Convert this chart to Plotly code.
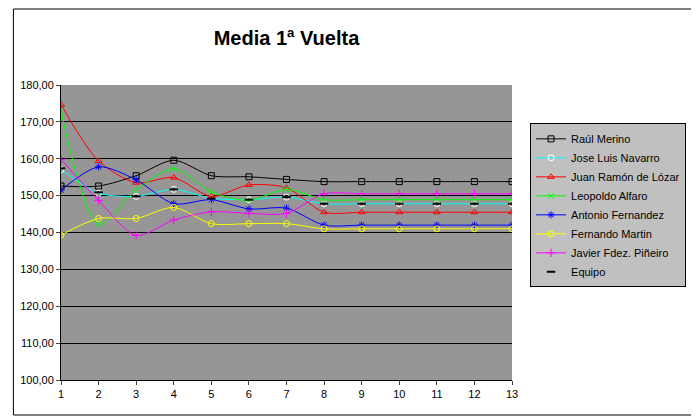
import plotly.graph_objects as go

jornadas = list(range(1, 14))
raul = [152.6,152.6,155.4,159.6,155.4,155.1,154.4]+[153.8]*6
jose = [157.0,150.7,149.8,151.7,149.3,148.9,149.6]+[147.8]*6
juan = [174.7,159.4,153.5,154.9,149.8,152.9,152.1]+[145.5]*6
leopoldo = [172.8,142.2,151.5,157.3,151.0,148.7,151.7]+[148.9]*6
antonio = [151.5,157.8,154.3,147.8,148.9,146.4,146.6]+[142.0]*6
fernando = [139.3,143.8,143.8,146.8,142.4,142.4,142.4]+[141.0]*6
javier = [159.8,148.7,139.2,143.4,145.6,145.2,145.2]+[150.5]*6
equipo = [157.4,150.9,149.8,151.7,149.2,148.9,149.6]+[147.8]*6

fig = go.Figure()
def add(name, y, color, symbol, lcolor=None):
    fig.add_trace(go.Scatter(x=jornadas, y=y, name=name, mode="lines+markers",
        line=dict(color=lcolor or color, width=1, shape="spline", smoothing=0.8),
        marker=dict(symbol=symbol, size=6, color=color, line=dict(color=color, width=1))))

add("Raúl Merino", raul, "black", "square-open")
add("Jose Luis Navarro", jose, "white", "circle-open", lcolor="cyan")
add("Juan Ramón de Lózar", juan, "red", "triangle-up-open")
add("Leopoldo Alfaro", leopoldo, "#00ff00", "x-thin-open")
add("Antonio Fernandez", antonio, "blue", "asterisk-open")
add("Fernando Martin", fernando, "yellow", "circle-open")
add("Javier Fdez. Piñeiro", javier, "magenta", "cross-thin-open")
fig.add_trace(go.Scatter(x=jornadas, y=equipo, name="Equipo", mode="markers",
    marker=dict(symbol="line-ew-open", size=6, color="black", line=dict(color="black", width=2))))

fig.update_layout(
    width=691, height=408, paper_bgcolor="white", plot_bgcolor="#969696",
    separators=",.",
    margin=dict(l=49, r=187, t=77, b=36),
    title=dict(text="<b>Media 1ª Vuelta</b>", x=0.5, xref="paper", y=0.926, yanchor="middle",
               font=dict(family="Arial, Liberation Sans", size=20, color="black")),
    font=dict(family="Arial, Liberation Sans", size=11, color="black"),
    xaxis=dict(range=[1, 13], tickvals=jornadas, showgrid=False, showline=True, linecolor="black",
               ticks="outside", ticklen=4, zeroline=False),
    yaxis=dict(range=[100, 180], dtick=10, tickformat=".2f", showgrid=True, gridcolor="black",
               showline=True, linecolor="black", ticks="outside", ticklen=4, zeroline=False),
    legend=dict(x=1.04, y=0.87, xanchor="left", yanchor="top", bgcolor="#c0c0c0",
                bordercolor="black", borderwidth=1, font=dict(size=11), tracegroupgap=0),
    shapes=[dict(type="rect", xref="paper", yref="paper", x0=-0.1055, x1=1.4088, y0=-0.1186, y1=1.2576,
                 line=dict(color="black", width=1))]
)
fig.write_html("out.html")
